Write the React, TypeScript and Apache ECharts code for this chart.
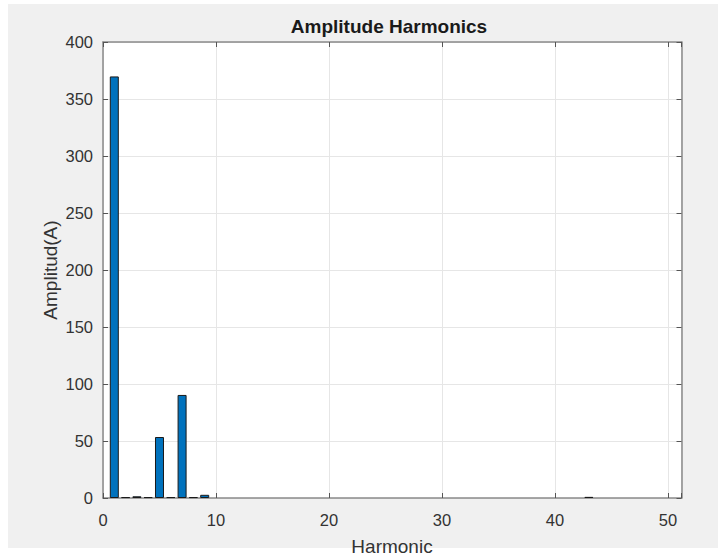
import React, { useEffect, useRef } from "react";
import * as echarts from "echarts";

const harmonics = [
  1, 2, 3, 4, 5, 6, 7, 8, 9, 10, 11, 12, 13, 14, 15, 16, 17, 18, 19, 20, 21, 22, 23, 24, 25,
  26, 27, 28, 29, 30, 31, 32, 33, 34, 35, 36, 37, 38, 39, 40, 41, 42, 43, 44, 45, 46, 47, 48, 49, 50,
];
const amplitudes = [
  369.8, 0.8, 1.5, 0.8, 53.5, 0.8, 90.4, 0.8, 2.8, 0, 0, 0, 0, 0, 0, 0, 0, 0, 0, 0, 0, 0, 0, 0, 0,
  0, 0, 0, 0, 0, 0, 0, 0, 0, 0, 0, 0, 0, 0, 0, 0, 0, 1.0, 0, 0, 0, 0, 0, 0, 0,
];
const xTicks = [0, 10, 20, 30, 40, 50];
const yTicks = [0, 50, 100, 150, 200, 250, 300, 350, 400];

const FONT = "'Liberation Sans', Arial, Helvetica, sans-serif";

export default function App() {
  const ref = useRef<HTMLDivElement>(null);
  useEffect(() => {
    if (!ref.current) return;
    const chart = echarts.init(ref.current, undefined, { renderer: "svg" });
    const axisLineColor = "#8a8a8a";
    const labelColor = "#333333";
    const xFmt = (v: number) => (xTicks.includes(Math.round(v * 1000) / 1000) ? String(v) : "");
    const yFmt = (v: number) => (yTicks.includes(Math.round(v * 1000) / 1000) ? String(v) : "");
    chart.setOption({
      animation: false,
      backgroundColor: "#ffffff",
      graphic: [
        {
          type: "rect",
          shape: { x: 8, y: 4, width: 710, height: 544 },
          style: { fill: "#f0f0f0" },
          z: -10,
          silent: true,
        },
        {
          type: "rect",
          shape: { x: 103, y: 42, width: 578.5, height: 456 },
          style: { fill: "#ffffff" },
          z: -9,
          silent: true,
        },
        {
          type: "text",
          x: 389,
          y: 26,
          style: {
            text: "Amplitude Harmonics",
            font: `bold 19px ${FONT}`,
            fill: "#1a1a1a",
            align: "center",
            verticalAlign: "middle",
          },
        },
        {
          type: "text",
          x: 50,
          y: 270,
          rotation: Math.PI / 2,
          style: {
            text: "Amplitud(A)",
            font: `19px ${FONT}`,
            fill: labelColor,
            align: "center",
            verticalAlign: "middle",
          },
        },
        {
          type: "text",
          x: 392,
          y: 546,
          z: 100,
          style: {
            text: "Harmonic",
            font: `19px ${FONT}`,
            fill: labelColor,
            align: "center",
            verticalAlign: "middle",
          },
        },
      ],
      grid: { left: 103, right: 36.5, top: 42, bottom: 57, containLabel: false },
      xAxis: [
        {
          type: "value",
          min: 0,
          max: 51.2,
          interval: 10,
          position: "bottom",
          axisLine: { show: true, onZero: false, lineStyle: { color: axisLineColor, width: 1.5 } },
          axisTick: { show: true, inside: true, length: 5, lineStyle: { color: "#555" } },
          axisLabel: { color: labelColor, fontSize: 16.5, fontFamily: FONT, margin: 13, formatter: xFmt },
          splitLine: { show: true, lineStyle: { color: "#e6e6e6", width: 1 } },
        },
        {
          type: "value",
          min: 0,
          max: 51.2,
          interval: 10,
          position: "top",
          axisLine: { show: true, onZero: false, lineStyle: { color: axisLineColor, width: 1.5 } },
          axisTick: { show: true, inside: true, length: 5, lineStyle: { color: "#555" } },
          axisLabel: { show: false },
          splitLine: { show: false },
        },
      ],
      yAxis: [
        {
          type: "value",
          min: 0,
          max: 400,
          interval: 50,
          position: "left",
          axisLine: { show: true, onZero: false, lineStyle: { color: axisLineColor, width: 1.5 } },
          axisTick: { show: true, inside: true, length: 5, lineStyle: { color: "#555" } },
          axisLabel: { color: labelColor, fontSize: 16.5, fontFamily: FONT, margin: 10, formatter: yFmt },
          splitLine: { show: true, lineStyle: { color: "#e6e6e6", width: 1 } },
        },
        {
          type: "value",
          min: 0,
          max: 400,
          interval: 50,
          position: "right",
          axisLine: { show: true, onZero: false, lineStyle: { color: axisLineColor, width: 1.5 } },
          axisTick: { show: true, inside: true, length: 5, lineStyle: { color: "#555" } },
          axisLabel: { show: false },
          splitLine: { show: false },
        },
      ],
      series: [
        {
          type: "bar",
          xAxisIndex: 0,
          yAxisIndex: 0,
          barWidth: 9,
          data: harmonics.map((h, i) => ({
            value: [h, amplitudes[i]],
            itemStyle: amplitudes[i] > 0 ? undefined : { borderWidth: 0, opacity: 0 },
          })),
          itemStyle: { color: "#0072BD", borderColor: "#1a1a1a", borderWidth: 1 },
          z: 2,
        },
      ],
    });
    return () => chart.dispose();
  }, []);
  return (
    <div
      ref={ref}
      style={{ position: "fixed", left: 0, top: 0, width: 718, height: 555 }}
    />
  );
}
